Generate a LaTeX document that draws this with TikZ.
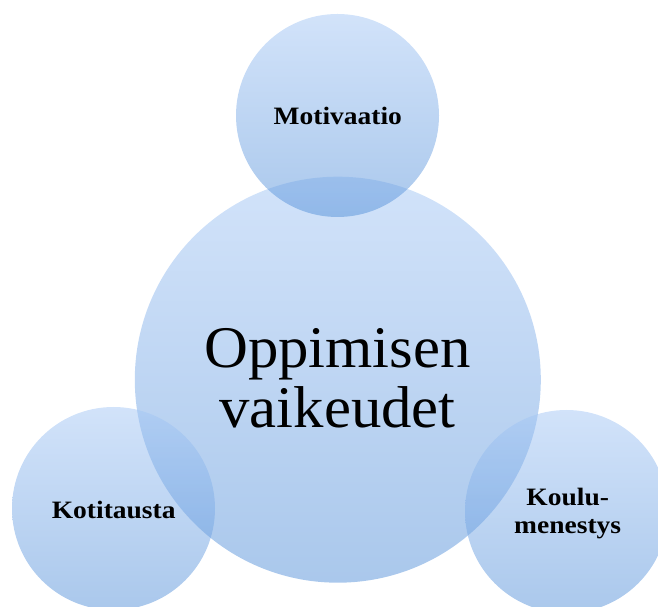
\documentclass[tikz,border=0pt]{standalone}
\usepackage{fontspec}
\setmainfont{Liberation Serif}
\newfontfamily\bigfont[FakeStretch=1.03]{Liberation Serif}
\newfontfamily\lblfont[FakeStretch=1.1]{Liberation Serif}
\definecolor{bubbletop}{RGB}{165,199,245}
\definecolor{bubblebot}{RGB}{85,145,217}
\tikzset{
  bubble/.style={circle, inner sep=0pt, minimum size=#1,
    top color=bubbletop, bottom color=bubblebot, fill opacity=0.5, draw=none},
  bubble/.default=203pt,
  maintext/.style={align=center, font=\bigfont\fontsize{59}{60}\selectfont, text=black},
  sidetext/.style={align=center, font=\lblfont\bfseries\fontsize{25}{28.3}\selectfont, text=black}
}
\begin{document}
\begin{tikzpicture}[x=1pt,y=1pt]
\useasboundingbox (0,0) rectangle (658,607);
\clip (0,0) rectangle (658,607);
% translucent bubbles
\node[bubble=406pt] (core) at (337.8,227.3) {};
\node[bubble] (motiv) at (337.5,491.5) {};
\node[bubble] (home) at (113.5,98.5) {};
\node[bubble] (school) at (566.5,95.5) {};
% labels
\node[maintext] (coretxt) at (337.5,229.2) {Oppimisen\\vaikeudet};
\node[sidetext, anchor=base] (motivtxt) at (337.8,482.7) {Motivaatio};
\node[sidetext, anchor=base] (hometxt) at (113.7,88.7) {Kotitausta};
\node[sidetext] (schooltxt) at (567.7,93.6) {Koulu-\\menestys};
\end{tikzpicture}
\end{document}
